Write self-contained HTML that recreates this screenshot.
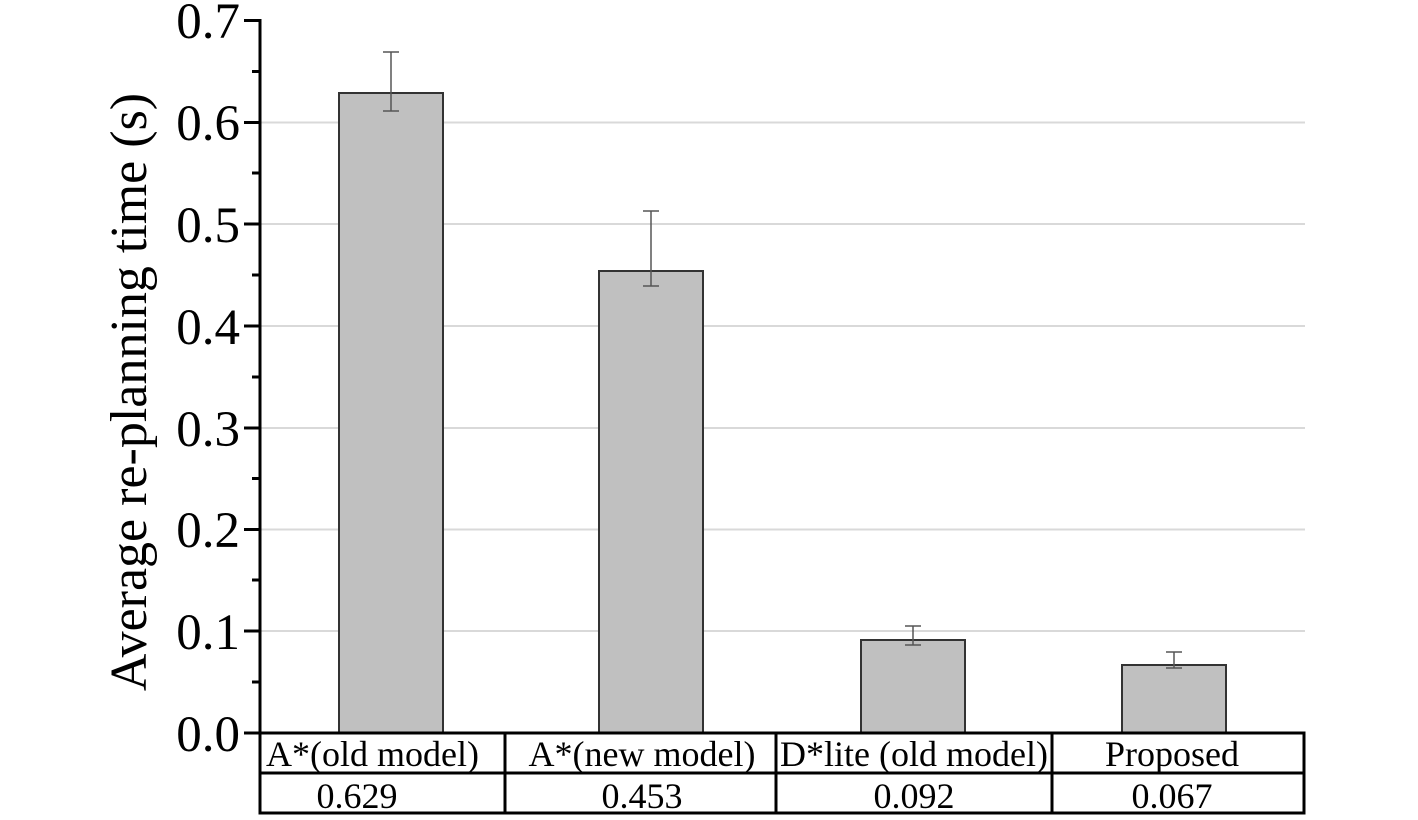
<!DOCTYPE html>
<html><head><meta charset="utf-8"><style>
html,body{margin:0;padding:0;background:#fff;}
svg{display:block;font-family:"Liberation Serif",serif;}
</style></head><body>
<svg width="1418" height="820" xmlns="http://www.w3.org/2000/svg">
<g stroke="#d9d9d9" stroke-width="2">
<line x1="261" y1="122.5" x2="1305" y2="122.5"/>
<line x1="261" y1="224" x2="1305" y2="224"/>
<line x1="261" y1="326" x2="1305" y2="326"/>
<line x1="261" y1="428" x2="1305" y2="428"/>
<line x1="261" y1="529.5" x2="1305" y2="529.5"/>
<line x1="261" y1="631" x2="1305" y2="631"/>
</g>
<g fill="#c0c0c0" stroke="#333" stroke-width="2">
<rect x="339" y="93" width="104" height="640"/>
<rect x="599" y="271" width="104" height="462"/>
<rect x="861" y="640" width="104" height="93"/>
<rect x="1122" y="665" width="104" height="68"/>
</g>
<g stroke="#555" stroke-width="1.5">
<line x1="391" y1="52" x2="391" y2="111"/><line x1="383" y1="52" x2="399" y2="52"/><line x1="383" y1="111" x2="399" y2="111"/>
<line x1="651" y1="211" x2="651" y2="286"/><line x1="643" y1="211" x2="659" y2="211"/><line x1="643" y1="286" x2="659" y2="286"/>
<line x1="913" y1="626" x2="913" y2="645"/><line x1="905" y1="626" x2="921" y2="626"/><line x1="905" y1="645" x2="921" y2="645"/>
<line x1="1174" y1="652" x2="1174" y2="668"/><line x1="1166" y1="652" x2="1182" y2="652"/><line x1="1166" y1="668" x2="1182" y2="668"/>
</g>
<g stroke="#000" stroke-width="3">
<line x1="260" y1="19" x2="260" y2="814"/>
<line x1="244" y1="20.5" x2="260" y2="20.5"/>
<line x1="244" y1="122.5" x2="260" y2="122.5"/>
<line x1="244" y1="224" x2="260" y2="224"/>
<line x1="244" y1="326" x2="260" y2="326"/>
<line x1="244" y1="428" x2="260" y2="428"/>
<line x1="244" y1="529.5" x2="260" y2="529.5"/>
<line x1="244" y1="631" x2="260" y2="631"/>
<line x1="244" y1="733" x2="260" y2="733"/>
<line x1="252" y1="71.5" x2="260" y2="71.5"/>
<line x1="252" y1="173" x2="260" y2="173"/>
<line x1="252" y1="275" x2="260" y2="275"/>
<line x1="252" y1="377" x2="260" y2="377"/>
<line x1="252" y1="478.5" x2="260" y2="478.5"/>
<line x1="252" y1="580" x2="260" y2="580"/>
<line x1="252" y1="682" x2="260" y2="682"/>
<rect x="260" y="733" width="1044" height="80" fill="none"/>
<line x1="260" y1="773" x2="1304" y2="773"/>
<line x1="505" y1="733" x2="505" y2="813"/>
<line x1="776" y1="733" x2="776" y2="813"/>
<line x1="1052" y1="733" x2="1052" y2="813"/>
</g>
<g font-size="51" text-anchor="end" fill="#000">
<text x="240" y="38">0.7</text>
<text x="240" y="140">0.6</text>
<text x="240" y="242">0.5</text>
<text x="240" y="344">0.4</text>
<text x="240" y="446">0.3</text>
<text x="240" y="547">0.2</text>
<text x="240" y="649">0.1</text>
<text x="240" y="751">0.0</text>
</g>
<text transform="translate(146,392) rotate(-90)" font-size="52" text-anchor="middle">Average re-planning time (s)</text>
<g font-size="36" fill="#000">
<text x="266" y="766">A*(old model)</text>
<text x="642" y="766" text-anchor="middle">A*(new model)</text>
<text x="914" y="766" text-anchor="middle">D*lite (old model)</text>
<text x="1172" y="766" text-anchor="middle">Proposed</text>
<text x="357" y="808" text-anchor="middle">0.629</text>
<text x="642" y="808" text-anchor="middle">0.453</text>
<text x="914" y="808" text-anchor="middle">0.092</text>
<text x="1172" y="808" text-anchor="middle">0.067</text>
</g>
</svg>
</body></html>
